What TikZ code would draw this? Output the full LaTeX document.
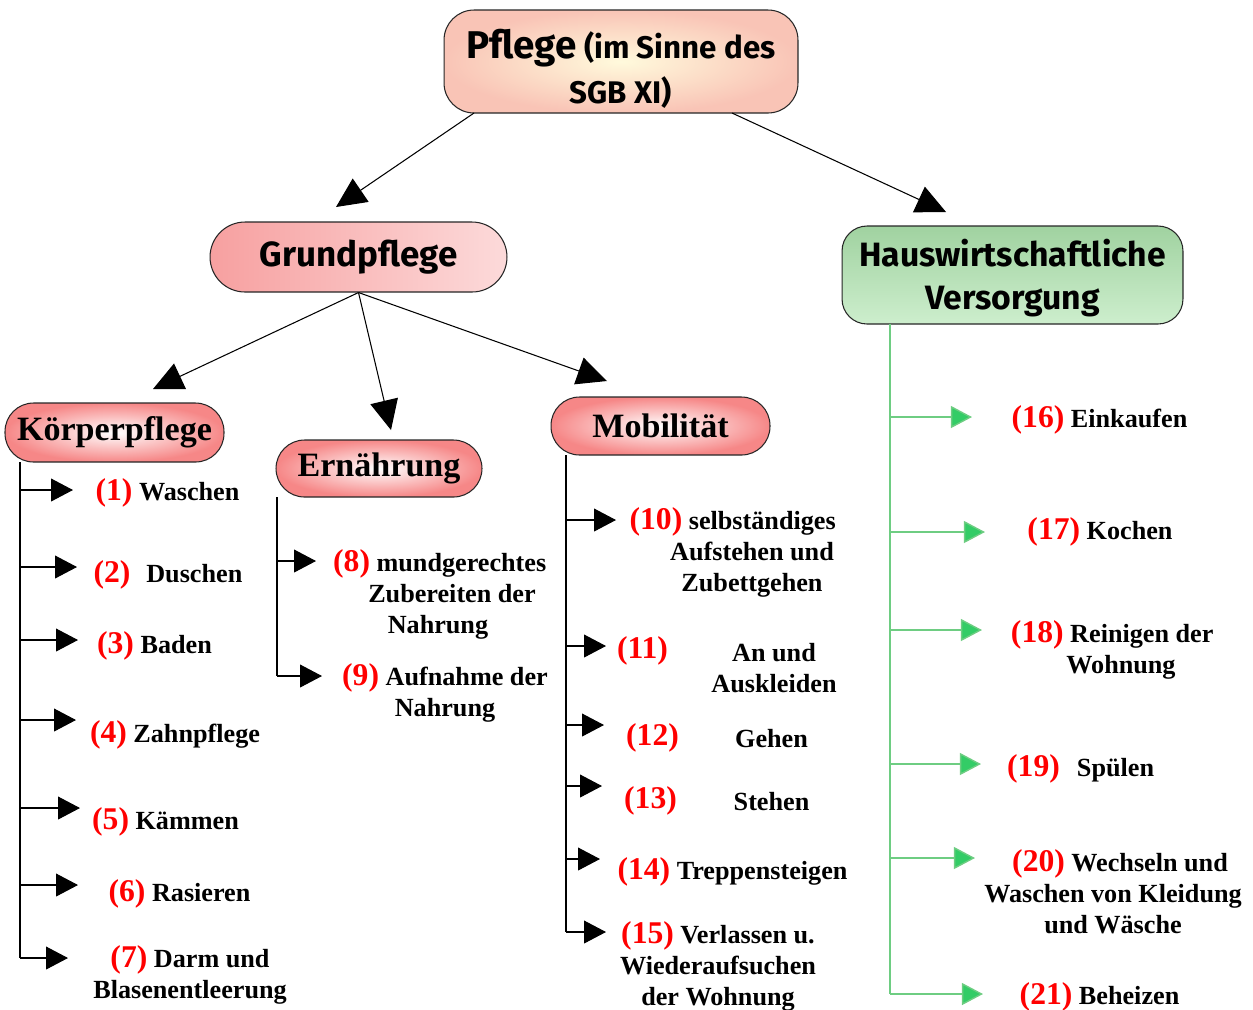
\documentclass[tikz,border=0pt]{standalone}
\usepackage{fontspec}
\setmainfont{Liberation Serif}
\newfontfamily\comicf{Fira Sans}
\usetikzlibrary{arrows.meta,calc}
\definecolor{nrred}{RGB}{255,0,0}
\definecolor{pinkedge}{RGB}{246,135,135}
\definecolor{gpleft}{RGB}{247,160,160}
\definecolor{pinkmid}{RGB}{255,238,238}
\definecolor{pinkright}{RGB}{252,218,218}
\definecolor{salmon}{RGB}{249,196,182}
\definecolor{paleyel}{RGB}{255,250,220}
\definecolor{grntop}{RGB}{160,210,160}
\definecolor{grnmid}{RGB}{212,222,212}
\definecolor{grnbot}{RGB}{205,238,205}
\definecolor{grn}{RGB}{51,204,102}
\definecolor{grnline}{RGB}{110,205,130}
\newcommand{\nr}[1]{{\fontsize{18}{20}\selectfont\color{nrred}#1}}
\begin{document}
\begin{tikzpicture}[x=0.02cm,y=-0.02cm,
  box/.style={draw=black!85, line width=0.6pt, inner sep=0pt},
  pill/.style={box, rounded corners=0.57cm, inner color=white, outer color=pinkedge,
     font=\fontsize{19.4}{22}\selectfont\bfseries},
  item/.style={font=\fontsize{14.9}{17.6}\selectfont\bfseries, align=center, inner sep=0pt},
  bigarrow/.style={line width=0.6pt, -{Triangle[length=17pt,width=16pt]}},
  listarrow/.style={line width=0.6pt, -{Triangle[length=12.5pt,width=13pt]}},
  greenarrow/.style={draw=grnline, line width=0.8pt, -{Triangle[length=12pt,width=12.5pt,fill=grn]}, color=grnline},
  vline/.style={line width=0.6pt}
]
\useasboundingbox (0,0) rectangle (1253,1009);
\clip (0,0) rectangle (1253,1009);

% top level nodes
\node[box, rounded corners=0.6cm, minimum width=7.08cm, minimum height=2.06cm,
      inner color=paleyel, outer color=salmon] (top) at (621,61.5) {};
\node[font=\comicf\bfseries\fontsize{17.8}{25.5}\selectfont, align=center, inner sep=0pt]
      (toptxt) at (621,69) {{\fontsize{22}{25.5}\selectfont Pflege} (im Sinne des\\SGB XI)};

\node[box, rounded corners=0.7cm, minimum width=5.94cm, minimum height=1.4cm,
      left color=gpleft, middle color=pinkmid, right color=pinkright,
      font=\comicf\bfseries\fontsize{19.9}{22}\selectfont] (gp) at (358.5,257) {Grundpflege};

\node[box, rounded corners=0.5cm, minimum width=6.82cm, minimum height=1.96cm,
      top color=grntop, middle color=grnmid, bottom color=grnbot] (hw) at (1012.5,275) {};
\node[font=\comicf\bfseries\fontsize{19.2}{24.4}\selectfont, align=center, inner sep=0pt]
      (hwtxt) at (1012.5,278) {Hauswirtschaftliche\\Versorgung};

% second level
\node[pill, minimum width=4.38cm, minimum height=1.18cm] (kp) at (114.5,432.5) {\raisebox{-1.5pt}{Körperpflege}};
\node[pill, minimum width=4.12cm, minimum height=1.14cm] (er) at (379,468.5) {\raisebox{-2pt}{Ernährung}};
\node[pill, minimum width=4.38cm, minimum height=1.16cm] (mo) at (660.5,426) {\raisebox{-0.5pt}{Mobilität}};

% main arrows
\coordinate (a1s) at (474,113);
\coordinate (a1e) at (336,207);
\coordinate (a2s) at (732,113);
\coordinate (a2e) at (946,212);
\coordinate (a3e) at (153,389);
\coordinate (a4e) at (391,430);
\coordinate (a5e) at (607,381);
\draw[bigarrow] (a1s) -- (a1e);
\draw[bigarrow] (a2s) -- (a2e);
\draw[bigarrow] (gp.south) -- (a3e);
\draw[bigarrow] (gp.south) -- (a4e);
\draw[bigarrow] (gp.south) -- (a5e);

% Koerperpflege list
\coordinate (kvt) at (20,462);
\coordinate (kvb) at (20,958);
\draw[vline] (kvt) -- (kvb);
\foreach \i/\y/\t in {1/490/73,2/567/77,3/640/78,4/720/76,5/808/80,6/885/78,7/958/68}{
  \coordinate (ks\i) at (20,\y);
  \coordinate (ke\i) at (\t,\y);
  \draw[listarrow] (ks\i) -- (ke\i);
}
\node[item] (k1) at (167.5,493) {\nr{(1)} Waschen};
\node[item] (k2) at (168,575) {\nr{(2)}\hspace{9pt}Duschen};
\node[item] (k3) at (154.5,646) {\nr{(3)} Baden};
\node[item] (k4) at (175,735) {\nr{(4)} Zahnpflege};
\node[item] (k5) at (165.5,822) {\nr{(5)} Kämmen};
\node[item] (k6) at (179.5,894) {\nr{(6)} Rasieren};
\node[item] (k7) at (190,975) {\nr{(7)} Darm und\\Blasenentleerung};

% Ernaehrung list
\coordinate (evt) at (277,497);
\coordinate (evb) at (277,676);
\draw[vline] (evt) -- (evb);
\foreach \i/\y/\t in {8/561/316,9/676/322}{
  \coordinate (es\i) at (277,\y);
  \coordinate (ee\i) at (\t,\y);
  \draw[listarrow] (es\i) -- (ee\i);
}
\node[item] (e8) at (452,594) {\nr{(8)} mundgerechtes\hspace*{14pt}\\Zubereiten der\\Nahrung\hspace*{16pt}};
\node[item] (e9) at (445,693) {\nr{(9)} Aufnahme der\\Nahrung};

% Mobilitaet list
\coordinate (mvt) at (566,455);
\coordinate (mvb) at (566,932);
\draw[vline] (mvt) -- (mvb);
\foreach \i/\y/\t in {10/520/616,11/646/606,12/725/604,13/786/602,14/859/600,15/932/606}{
  \coordinate (ms\i) at (566,\y);
  \coordinate (me\i) at (\t,\y);
  \draw[listarrow] (ms\i) -- (me\i);
}
\node[item] (m10) at (752,552) {\nr{(10)} selbständiges\hspace*{22pt}\\Aufstehen und\\Zubettgehen};
\node[item] (m11n) at (642.5,651) {\nr{(11)}};
\node[item] (m11) at (774,668) {An und\\Auskleiden};
\node[item] (m12n) at (652.5,738) {\nr{(12)}};
\node[item] (m12) at (771.5,739) {Gehen};
\node[item] (m13n) at (650.5,801) {\nr{(13)}};
\node[item] (m13) at (771.5,802) {Stehen};
\node[item] (m14) at (732.5,872) {\nr{(14)} Treppensteigen};
\node[item] (m15) at (718,966) {\nr{(15)} Verlassen u.\\Wiederaufsuchen\\der Wohnung};

% Hauswirtschaft list
\coordinate (hvt) at (890,324);
\coordinate (hvb) at (890,994);
\draw[vline, draw=grnline, line width=0.8pt] (hvt) -- (hvb);
\foreach \i/\y/\t in {16/417/972,17/532/985,18/630/982,19/764/981,20/858/975,21/994/983}{
  \coordinate (hs\i) at (890,\y);
  \coordinate (he\i) at (\t,\y);
  \draw[greenarrow] (hs\i) -- (he\i);
}
\node[item] (h16) at (1099.5,420) {\nr{(16)} Einkaufen};
\node[item] (h17) at (1100,532) {\nr{(17)} Kochen};
\node[item] (h18) at (1121,649.5) {\nr{(18)} Reinigen der\hspace*{10pt}\\Wohnung};
\node[item] (h19n) at (1033.5,769) {\nr{(19)}};
\node[item] (h19) at (1115.5,770) {Spülen};
\node[item] (h20) at (1113,892) {\hspace*{8pt}\nr{(20)} Wechseln und\\Waschen von Kleidung\\und Wäsche};
\node[item] (h21) at (1099.5,997) {\nr{(21)} Beheizen};
\end{tikzpicture}
\end{document}
